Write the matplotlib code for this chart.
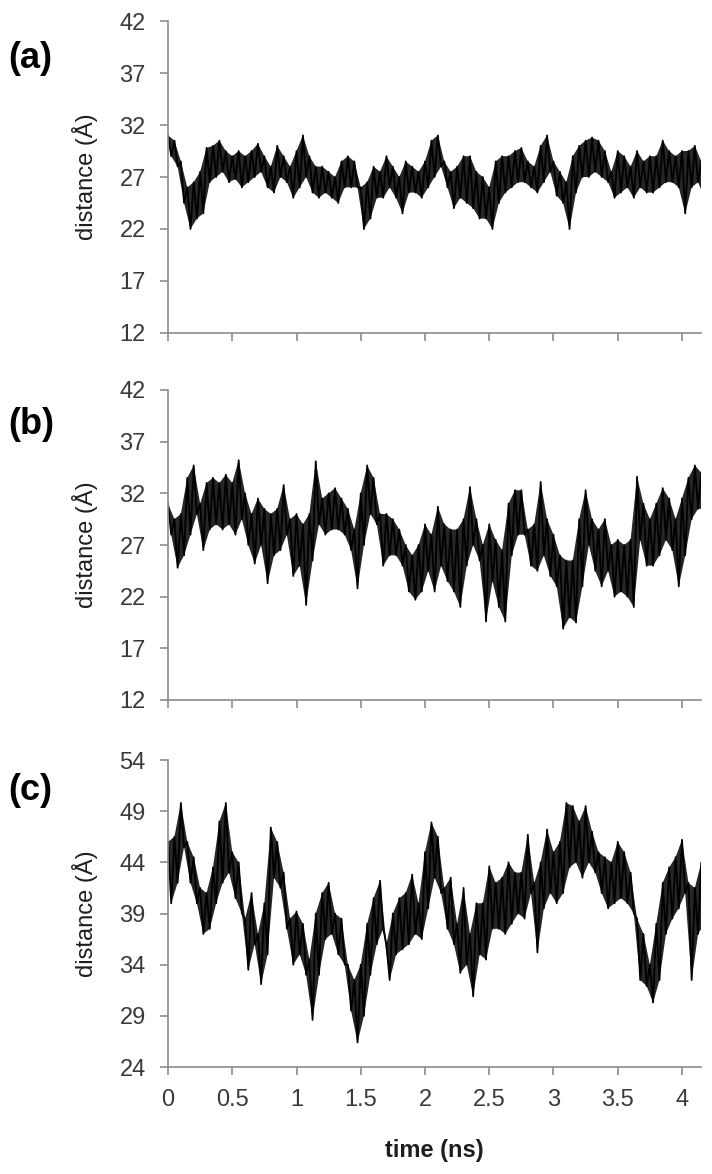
import numpy as np
import matplotlib
matplotlib.use("Agg")
import matplotlib.pyplot as plt

plt.rcParams['font.family'] = ['Liberation Sans', 'DejaVu Sans']

# sampling step of the digitised envelopes (ns)
step = 0.05

# Panel (a): upper / lower envelope of the trace
a_hi = [31.0, 30.5, 28.5, 26.0, 26.5, 27.5, 29.8, 30.0, 30.5, 29.5,
        29.0, 29.5, 29.0, 29.5, 30.2, 29.0, 28.0, 30.0, 29.0, 28.0,
        29.5, 31.0, 29.0, 28.0, 28.0, 27.5, 27.0, 28.5, 29.0, 28.5,
        26.0, 26.5, 28.0, 27.5, 29.0, 28.0, 27.0, 28.5, 28.0, 27.5,
        28.5, 30.5, 31.0, 28.5, 27.5, 28.0, 29.0, 29.0, 27.5, 27.0,
        26.0, 28.5, 29.0, 29.0, 29.5, 29.8, 28.5, 28.0, 30.0, 31.0,
        28.5, 27.5, 26.5, 29.0, 30.0, 30.5, 30.8, 30.5, 29.5, 27.5,
        29.5, 29.0, 28.0, 29.5, 28.5, 29.0, 29.0, 30.5, 29.5, 29.0,
        29.5, 29.5, 30.0, 28.5]
a_lo = [29.0, 28.0, 24.5, 22.0, 23.0, 23.5, 26.5, 27.0, 27.5, 26.5,
        26.8, 26.0, 26.5, 27.0, 27.5, 26.0, 25.5, 27.0, 26.5, 25.0,
        26.0, 27.0, 25.5, 25.0, 25.5, 25.0, 24.5, 26.0, 26.0, 26.0,
        22.0, 23.0, 25.0, 25.0, 26.0, 25.0, 23.5, 25.5, 25.5, 25.0,
        26.0, 27.0, 28.0, 26.0, 24.0, 25.0, 24.5, 24.0, 23.0, 23.0,
        22.0, 24.5, 25.5, 26.0, 26.5, 26.5, 26.0, 25.5, 26.5, 27.5,
        25.2, 24.5, 22.0, 25.5, 27.0, 27.0, 27.5, 27.0, 26.5, 25.0,
        25.5, 26.0, 25.0, 26.0, 25.5, 25.5, 26.0, 26.5, 26.5, 26.0,
        23.5, 26.0, 26.5, 25.0]

# Panel (b)
b_hi = [31.0, 29.5, 30.0, 33.5, 34.7, 31.0, 33.0, 33.5, 33.0, 33.8,
        33.0, 35.2, 32.0, 30.0, 31.5, 30.5, 30.0, 30.5, 32.8, 29.5,
        30.0, 29.0, 30.0, 35.1, 31.5, 32.0, 32.5, 31.5, 30.5, 28.5,
        32.0, 34.7, 33.5, 30.0, 30.0, 29.5, 28.5, 27.0, 26.0, 27.0,
        29.0, 28.0, 30.7, 29.0, 28.5, 28.5, 29.5, 32.6, 29.5, 27.0,
        29.0, 27.5, 26.5, 31.0, 32.3, 32.3, 28.5, 29.0, 33.1, 29.5,
        28.0, 26.0, 25.5, 25.5, 29.5, 32.3, 29.5, 28.5, 29.5, 27.0,
        27.5, 27.0, 27.5, 33.6, 31.0, 29.5, 31.0, 32.5, 31.5, 29.5,
        31.5, 33.5, 34.7, 34.0]
b_lo = [28.0, 24.8, 26.0, 28.0, 30.0, 26.5, 28.5, 29.0, 28.5, 29.0,
        28.0, 29.5, 27.0, 25.2, 27.0, 23.3, 26.0, 26.5, 28.0, 24.0,
        25.0, 21.2, 25.5, 29.0, 28.0, 28.5, 28.5, 28.0, 26.5, 22.8,
        27.0, 30.0, 29.0, 25.0, 26.0, 26.0, 25.0, 22.5, 21.7, 22.5,
        24.5, 22.5, 25.0, 23.5, 22.5, 21.0, 25.0, 27.0, 25.5, 19.6,
        23.5, 21.0, 19.6, 26.0, 28.0, 28.0, 25.0, 24.5, 26.0, 24.0,
        23.0, 18.9, 20.0, 19.5, 23.0, 27.0, 24.5, 23.0, 24.5, 22.0,
        22.5, 22.0, 21.0, 27.5, 25.0, 25.0, 26.0, 27.5, 26.5, 23.0,
        26.0, 29.5, 30.5, 30.5]

# Panel (c)
c_hi = [46.0, 46.5, 49.8, 46.0, 44.5, 41.5, 41.0, 43.5, 48.0, 49.8,
        45.0, 44.0, 38.5, 41.0, 37.0, 40.0, 47.4, 46.0, 43.0, 38.5,
        39.2, 38.0, 34.5, 39.0, 41.0, 42.0, 39.0, 38.5, 34.0, 32.5,
        34.0, 38.0, 40.5, 42.2, 36.0, 39.0, 40.5, 41.0, 42.8, 40.0,
        45.0, 47.9, 46.5, 41.5, 42.5, 38.0, 41.5, 37.0, 40.0, 40.0,
        43.6, 42.0, 42.5, 44.0, 43.0, 43.0, 46.7, 42.0, 44.0, 47.2,
        45.0, 46.0, 49.8, 49.5, 48.0, 49.5, 47.0, 45.0, 44.5, 44.0,
        46.0, 45.0, 43.0, 38.5, 37.0, 34.0, 38.0, 42.0, 43.5, 44.5,
        46.2, 42.0, 41.5, 44.0]
c_lo = [40.0, 42.0, 45.5, 42.0, 40.0, 37.0, 37.5, 40.0, 42.0, 43.0,
        40.5, 39.0, 33.5, 36.0, 32.1, 35.0, 42.5, 41.5, 37.5, 34.0,
        35.0, 33.0, 28.6, 33.0, 36.5, 37.0, 35.0, 34.0, 29.5, 26.4,
        29.0, 33.0, 36.0, 37.5, 32.5, 35.0, 35.5, 36.0, 37.0, 36.5,
        39.5, 42.5, 41.0, 37.5, 36.0, 33.2, 34.0, 30.9, 35.0, 34.5,
        37.5, 37.5, 37.0, 38.0, 39.0, 38.5, 41.0, 35.2, 39.5, 41.0,
        40.0, 41.0, 43.5, 44.0, 42.5, 44.0, 43.0, 41.0, 39.5, 40.0,
        40.5, 40.0, 39.0, 32.5, 31.9, 30.3, 32.5, 37.0, 38.5, 39.5,
        41.0, 32.5, 37.0, 38.0]

panel_labels = ["(a)", "(b)", "(c)"]
y_ticks = [[12, 17, 22, 27, 32, 37, 42],
           [12, 17, 22, 27, 32, 37, 42],
           [24, 29, 34, 39, 44, 49, 54]]
x_ticks = [0, 0.5, 1, 1.5, 2, 2.5, 3, 3.5, 4]
x_tick_labels = ["0", "0.5", "1", "1.5", "2", "2.5", "3", "3.5", "4"]
series = [(a_hi, a_lo), (b_hi, b_lo), (c_hi, c_lo)]

W, H = 712, 1174
fig = plt.figure(figsize=(W / 100, H / 100), dpi=100)

left_px, right_px = 168, 701
panels_px = [(21, 333), (390, 700), (760, 1067)]
label_y_px = [58, 425, 790]

spine_col = "#8c8c8c"
tick_col = "#3a3a3a"

for i, ((top, bot), (hi, lo)) in enumerate(zip(panels_px, series)):
    ax = fig.add_axes([left_px / W, 1 - bot / H, (right_px - left_px) / W, (bot - top) / H])
    hi = np.asarray(hi)
    lo = np.asarray(lo)
    n = len(hi)
    ts = np.arange(n) * step
    t_hi = ts
    t_lo = ts + step / 2
    # hull of the trace (between the digitised envelopes)
    ax.fill(np.concatenate([t_hi, t_lo[::-1]]), np.concatenate([hi, lo[::-1]]),
            color="#262626", lw=0)
    # the trace zig-zagging between upper and lower envelope
    t = np.empty(2 * n)
    v = np.empty(2 * n)
    t[0::2] = t_hi
    t[1::2] = t_lo
    v[0::2] = hi
    v[1::2] = lo
    ax.plot(t, v, color="black", lw=1.3)
    ax.set_xlim(0, (right_px - left_px) / 128.5)
    ax.set_ylim(y_ticks[i][0], y_ticks[i][-1])
    ax.set_yticks(y_ticks[i])
    ax.set_xticks(x_ticks)
    if i == 2:
        ax.set_xticklabels(x_tick_labels)
    else:
        ax.set_xticklabels([])
    for s in ["top", "right"]:
        ax.spines[s].set_visible(False)
    for s in ["left", "bottom"]:
        ax.spines[s].set_color(spine_col)
        ax.spines[s].set_linewidth(1.2)
    ax.tick_params(axis="both", direction="out", length=6, width=1.2,
                   color=spine_col, labelcolor=tick_col, labelsize=17, pad=10)
    ax.patch.set_visible(False)
    yc = 1 - (top + bot) / 2 / H
    fig.text(85 / W, yc, "distance (Å)", rotation=90, ha="center", va="center",
             fontsize=17, color="#1e1e1e")
    fig.text(8 / W, 1 - label_y_px[i] / H, panel_labels[i], ha="left", va="center",
             fontsize=26, fontweight="bold", color="black")

fig.text((left_px + right_px) / 2 / W, 1 - 1150 / H, "time (ns)", ha="center", va="center",
         fontsize=17, fontweight="bold", color="#1e1e1e")

fig.savefig("out.png", dpi=100)
